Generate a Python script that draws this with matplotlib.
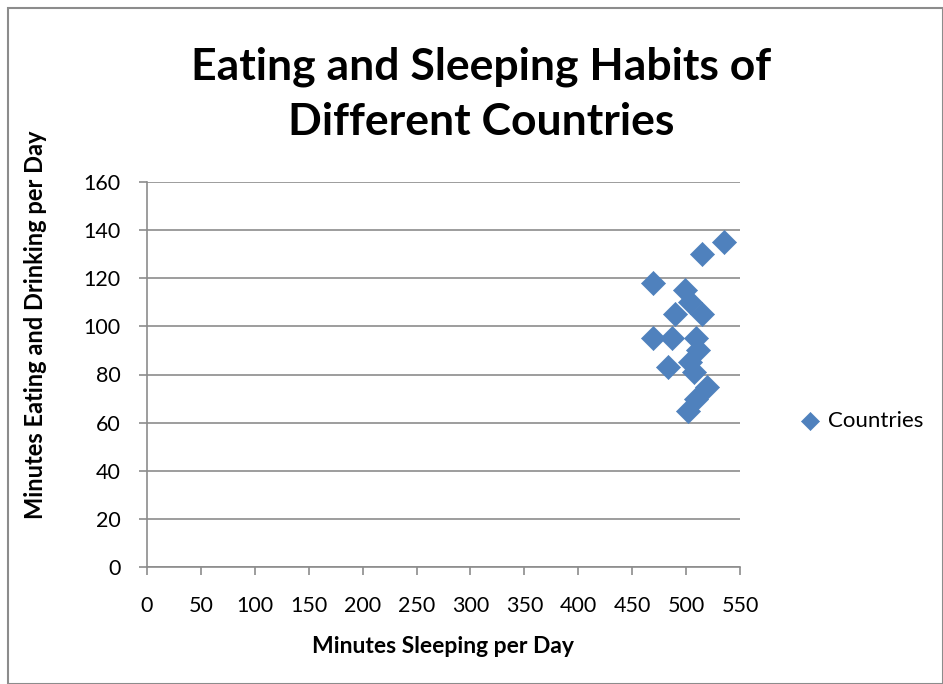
import matplotlib.pyplot as plt
import matplotlib as mpl
from matplotlib.patches import Rectangle

# minutes sleeping / minutes eating and drinking per day
sleep_min = [535, 515, 469, 499, 504, 490, 515, 469, 487, 509, 511, 504, 483, 507, 519, 509, 502]
eat_min = [135, 130, 118, 115, 110, 105, 105, 95, 95, 95, 90, 85, 83, 81, 75, 70, 65]

x_ticks = list(range(0, 551, 50))
y_ticks = list(range(0, 161, 20))

mpl.rcParams['font.family'] = ['Lato', 'DejaVu Sans']

fig = plt.figure(figsize=(9.43, 6.84), dpi=100)
ax = fig.add_axes([147/943, 1 - 567/684, (740-147)/943, (567-182)/684])

ax.scatter(sleep_min, eat_min, marker='D', s=150, color='#4F81BD',
           edgecolors='#4F81BD', linewidths=0.5, label='Countries', zorder=3)

ax.set_xlim(0, 550)
ax.set_ylim(0, 160)
ax.set_xticks(x_ticks)
ax.set_yticks(y_ticks)
ax.grid(axis='y', color='#8C8C8C', linewidth=1.2)
ax.set_axisbelow(True)
for s in ['top', 'right']:
    ax.spines[s].set_visible(False)
for s in ['left', 'bottom']:
    ax.spines[s].set_color('#8C8C8C')
    ax.spines[s].set_linewidth(1.2)
ax.tick_params(axis='both', colors='#8C8C8C', labelcolor='black',
               labelsize=15.5, length=6, width=1.2, direction='out')
ax.tick_params(axis='x', pad=15)
ax.tick_params(axis='y', pad=13)

ax.set_xlabel('Minutes Sleeping per Day', fontsize=16.5, fontweight='bold', labelpad=14)
ax.set_ylabel('Minutes Eating and Drinking per Day', fontsize=17, fontweight='bold')
ax.yaxis.set_label_coords(-0.168, 0.63)

fig.text(481/943, 1 - 94/684, 'Eating and Sleeping Habits of\nDifferent Countries',
         ha='center', va='center', fontsize=32, fontweight='bold', linespacing=1.45)

leg = ax.legend(loc='center left', bbox_to_anchor=(1.1, 0.38), frameon=False,
                fontsize=16, handlelength=1.0, handletextpad=0.3, borderpad=0,
                borderaxespad=0, markerscale=0.75)

fig.patches.append(Rectangle((8/943, 0), 1 - 8/943, 1 - 8/684, transform=fig.transFigure,
                             fill=False, edgecolor='#8C8C8C', linewidth=1.5))

fig.savefig('out.png', dpi=100)
